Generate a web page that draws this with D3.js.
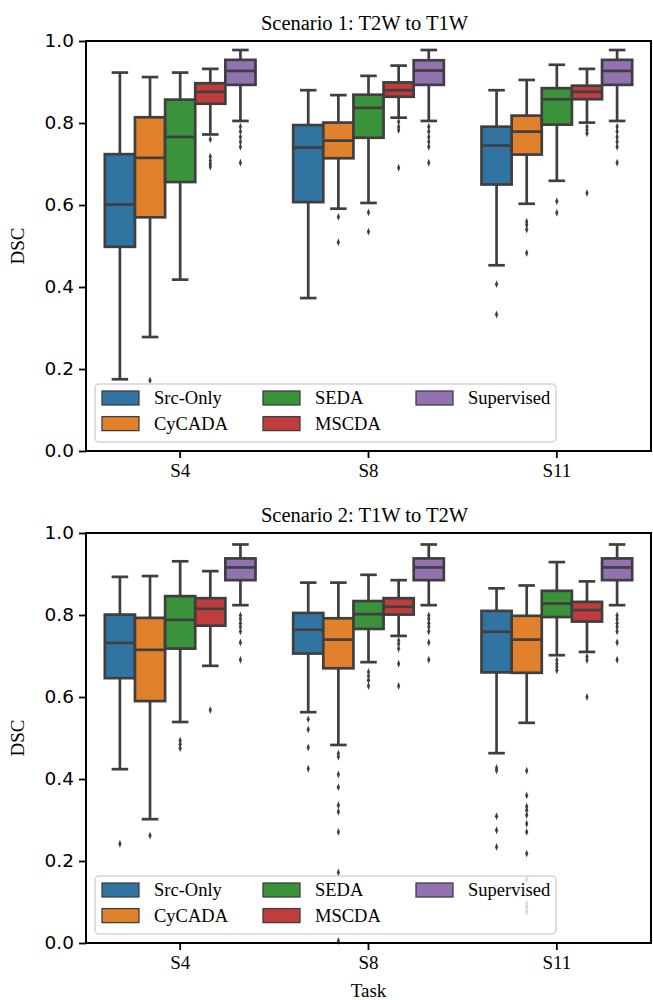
<!DOCTYPE html>
<html lang="en">
<head>
    <meta charset="UTF-8">
    <title>DSC boxplots</title>
    <script src="https://d3js.org/d3.v7.min.js"></script>
    <style>
        body { margin: 0; background: #fff; }
        svg { display: block; }
        .serif { font-family: "Liberation Serif", "Times New Roman", serif; }
        .ytick text { font-family: "DejaVu Sans", sans-serif; font-size: 18.5px; fill: #000; }
    </style>
</head>
<body>
<div class="viz"></div>
<script>
    const tasks = ["S4", "S8", "S11"];
    const methods = ["Src-Only", "CyCADA", "SEDA", "MSCDA", "Supervised"];
    const colors = ["#3274a1", "#e1812c", "#3a923a", "#c03d3e", "#9372b2"];
    const yTicks = [0, 0.2, 0.4, 0.6, 0.8, 1.0];
    const titles = ["Scenario 1: T2W to T1W", "Scenario 2: T1W to T2W"];

    // [whisker low, q1, median, q3, whisker high] per method
    const s1_S4 = [[0.175, 0.498, 0.601, 0.724, 0.923], [0.278, 0.570, 0.715, 0.814, 0.912], [0.418, 0.656, 0.766, 0.857, 0.923], [0.772, 0.847, 0.876, 0.897, 0.932], [0.805, 0.893, 0.927, 0.954, 0.978]];
    const s1_S8 = [[0.373, 0.607, 0.740, 0.795, 0.880], [0.591, 0.714, 0.757, 0.801, 0.868], [0.605, 0.764, 0.837, 0.869, 0.915], [0.813, 0.864, 0.880, 0.899, 0.940], [0.805, 0.893, 0.928, 0.953, 0.978]];
    const s1_S11 = [[0.453, 0.650, 0.745, 0.791, 0.880], [0.603, 0.723, 0.779, 0.818, 0.905], [0.659, 0.796, 0.858, 0.885, 0.942], [0.801, 0.858, 0.876, 0.891, 0.932], [0.805, 0.893, 0.927, 0.954, 0.978]];
    const s2_S4 = [[0.424, 0.646, 0.732, 0.801, 0.893], [0.302, 0.590, 0.715, 0.793, 0.895], [0.539, 0.718, 0.788, 0.846, 0.931], [0.676, 0.774, 0.815, 0.841, 0.907], [0.824, 0.885, 0.916, 0.938, 0.972]];
    const s2_S8 = [[0.563, 0.706, 0.764, 0.805, 0.879], [0.483, 0.670, 0.740, 0.792, 0.879], [0.685, 0.766, 0.802, 0.834, 0.898], [0.749, 0.801, 0.820, 0.841, 0.885], [0.824, 0.885, 0.916, 0.938, 0.972]];
    const s2_S11 = [[0.463, 0.660, 0.759, 0.810, 0.865], [0.537, 0.659, 0.740, 0.798, 0.872], [0.702, 0.795, 0.828, 0.859, 0.929], [0.710, 0.784, 0.812, 0.832, 0.882], [0.824, 0.885, 0.916, 0.938, 0.972]];

    // outliers per method
    const s1_S4_out = [[], [0.172], [], [0.760, 0.718, 0.708, 0.700, 0.693], [0.791, 0.779, 0.766, 0.754, 0.742, 0.703]];
    const s1_S8_out = [[], [0.571, 0.509], [0.582, 0.535], [0.803, 0.791, 0.783, 0.691], [0.791, 0.779, 0.766, 0.754, 0.742, 0.703]];
    const s1_S11_out = [[0.407, 0.333], [0.559, 0.551, 0.540, 0.483], [0.609, 0.581], [0.791, 0.783, 0.775, 0.629], [0.791, 0.779, 0.766, 0.754, 0.742, 0.703]];
    const s2_S4_out = [[0.242], [0.262], [0.494, 0.485, 0.475], [0.568], [0.799, 0.790, 0.780, 0.771, 0.760, 0.733, 0.691]];
    const s2_S8_out = [[0.546, 0.521, 0.477, 0.425], [0.462, 0.454, 0.411, 0.380, 0.336, 0.320, 0.271, 0.172, 0.005], [0.661, 0.651, 0.641, 0.627], [0.738, 0.729, 0.718, 0.681, 0.627], [0.799, 0.790, 0.780, 0.771, 0.760, 0.733, 0.691]];
    const s2_S11_out = [[0.427, 0.421, 0.309, 0.275, 0.234], [0.420, 0.360, 0.333, 0.324, 0.312, 0.291, 0.271, 0.218, 0.155, 0.096, 0.088, 0.076], [0.690, 0.681, 0.673, 0.665], [0.698, 0.690, 0.600], [0.799, 0.790, 0.780, 0.771, 0.760, 0.733, 0.691]];

    const panels = [
        { title: titles[0], stats: [s1_S4, s1_S8, s1_S11], outs: [s1_S4_out, s1_S8_out, s1_S11_out], top: 41, bottom: 451, xlabel: false },
        { title: titles[1], stats: [s2_S4, s2_S8, s2_S11], outs: [s2_S4_out, s2_S8_out, s2_S11_out], top: 533, bottom: 943, xlabel: true }
    ];

    const width = 653, height = 1000;
    const left = 86, right = 651;
    const edge = "#3f3f3f";
    const lw = 2.7;

    const svg = d3.select(".viz").append("svg")
        .attr("width", width)
        .attr("height", height);

    const x = d3.scaleBand().domain(tasks).range([left, right]);
    const bw = x.bandwidth();
    const hue = d3.scaleBand().domain(methods).range([-0.4 * bw, 0.4 * bw]);
    const boxW = hue.bandwidth();

    panels.forEach(p => {
        const y = d3.scaleLinear().domain([0, 1]).range([p.bottom, p.top]);
        const g = svg.append("g");

        tasks.forEach((t, ti) => {
            methods.forEach((m, mi) => {
                const s = p.stats[ti][mi];
                const x0 = x(t) + bw / 2 + hue(m);
                const cx = x0 + boxW / 2;
                const cap = boxW * 0.55;
                const mg = g.append("g");

                mg.append("line").attr("x1", cx).attr("x2", cx).attr("y1", y(s[3])).attr("y2", y(s[4]))
                    .attr("stroke", edge).attr("stroke-width", lw);
                mg.append("line").attr("x1", cx).attr("x2", cx).attr("y1", y(s[1])).attr("y2", y(s[0]))
                    .attr("stroke", edge).attr("stroke-width", lw);
                [s[0], s[4]].forEach(v => {
                    mg.append("line").attr("x1", cx - cap / 2).attr("x2", cx + cap / 2)
                        .attr("y1", y(v)).attr("y2", y(v))
                        .attr("stroke", edge).attr("stroke-width", lw);
                });
                mg.append("rect")
                    .attr("x", x0).attr("width", boxW)
                    .attr("y", y(s[3])).attr("height", y(s[1]) - y(s[3]))
                    .attr("fill", colors[mi]).attr("stroke", edge).attr("stroke-width", lw);
                mg.append("line").attr("x1", x0).attr("x2", x0 + boxW)
                    .attr("y1", y(s[2])).attr("y2", y(s[2]))
                    .attr("stroke", edge).attr("stroke-width", lw);

                mg.selectAll("path.out")
                    .data(p.outs[ti][mi])
                    .enter().append("path")
                    .attr("class", "out")
                    .attr("d", d3.symbol(d3.symbolDiamond, 18))
                    .attr("transform", d => `translate(${cx},${y(d)}) scale(0.7,1)`)
                    .attr("fill", edge);
            });
        });

        // axes
        const ya = svg.append("g")
            .attr("class", "ytick")
            .attr("transform", `translate(${left},0)`)
            .call(d3.axisLeft(y).tickValues(yTicks).tickFormat(d3.format(".1f")).tickSize(7).tickPadding(5));
        ya.select(".domain").remove();
        ya.selectAll(".tick line").attr("stroke", "#000").attr("stroke-width", 1.8);

        const xa = svg.append("g")
            .attr("transform", `translate(0,${p.bottom})`)
            .call(d3.axisBottom(x).tickSize(7).tickPadding(6));
        xa.select(".domain").remove();
        xa.selectAll(".tick line").attr("stroke", "#000").attr("stroke-width", 1.8);
        xa.selectAll(".tick text").attr("class", "serif").style("font-size", "19px").attr("fill", "#000");

        svg.append("rect")
            .attr("x", left).attr("y", p.top)
            .attr("width", right - left).attr("height", p.bottom - p.top)
            .attr("fill", "none").attr("stroke", "#000").attr("stroke-width", 2);

        svg.append("text").attr("class", "serif")
            .attr("x", (left + right) / 2 - 4).attr("y", p.top - 11)
            .attr("text-anchor", "middle").style("font-size", "20.5px")
            .text(p.title);

        svg.append("text").attr("class", "serif")
            .attr("transform", `translate(24,${(p.top + p.bottom) / 2}) rotate(-90)`)
            .attr("text-anchor", "middle").style("font-size", "19px")
            .text("DSC");

        if (p.xlabel) {
            svg.append("text").attr("class", "serif")
                .attr("x", (left + right) / 2).attr("y", p.bottom + 54)
                .attr("text-anchor", "middle").style("font-size", "19px")
                .text("Task");
        }

        // legend
        const lg = svg.append("g").attr("transform", `translate(${left + 9},${p.bottom - 67})`);
        lg.append("rect")
            .attr("width", 461).attr("height", 58).attr("rx", 4)
            .attr("fill", "#fff").attr("fill-opacity", 0.8)
            .attr("stroke", "#d3d3d3").attr("stroke-width", 1.5);
        const colX = [7, 168, 321];
        methods.forEach((m, i) => {
            const cx = colX[Math.floor(i / 2)];
            const cy = 7 + (i % 2) * 25.6;
            lg.append("rect")
                .attr("x", cx).attr("y", cy).attr("width", 37).attr("height", 14)
                .attr("fill", colors[i]).attr("stroke", edge).attr("stroke-width", 1.3);
            lg.append("text").attr("class", "serif")
                .attr("x", cx + 52).attr("y", cy + 13)
                .style("font-size", "18.5px")
                .text(m);
        });
    });
</script>
</body>
</html>
